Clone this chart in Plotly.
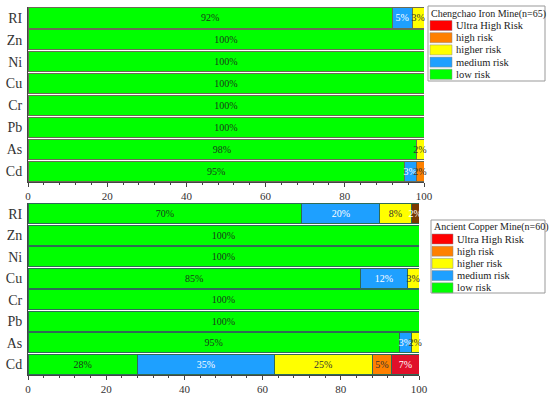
import plotly.graph_objects as go

elements = ["Cd", "As", "Pb", "Cr", "Cu", "Ni", "Zn", "RI"]
levels = ["low risk", "medium risk", "higher risk", "high risk", "Ultra High Risk"]
colors = ["#00FF00", "#1EA0FF", "#FFFF00", "#FF8000", "#FF0000"]
text_colors = ["#1a3a1a", "white", "#333333", "#333333", "white"]

# Chengchao Iron Mine (n=65), percentages per element (Cd..RI)
iron_low = [95, 98, 100, 100, 100, 100, 100, 92]
iron_medium = [3, 0, 0, 0, 0, 0, 0, 5]
iron_higher = [0, 2, 0, 0, 0, 0, 0, 3]
iron_high = [2, 0, 0, 0, 0, 0, 0, 0]
iron_ultra = [0, 0, 0, 0, 0, 0, 0, 0]

# Ancient Copper Mine (n=60)
copper_low = [28, 95, 100, 100, 85, 100, 100, 70]
copper_medium = [35, 3, 0, 0, 12, 0, 0, 20]
copper_higher = [25, 2, 0, 0, 3, 0, 0, 8]
copper_high = [5, 0, 0, 0, 0, 0, 0, 0]
copper_ultra = [7, 0, 0, 0, 0, 0, 0, 2]

iron = [iron_low, iron_medium, iron_higher, iron_high, iron_ultra]
copper = [copper_low, copper_medium, copper_higher, copper_high, copper_ultra]

iron_title = "Chengchao Iron Mine(n=65)"
copper_title = "Ancient Copper Mine(n=60)"

x_ticks = [0, 20, 40, 60, 80, 100]

W, H = 550, 395
fig = go.Figure()
serif = "Liberation Serif"

def add_group(data, xa, ya, line_color, ultra_colors=None):
    for i, (lvl, vals) in enumerate(zip(levels, data)):
        c = colors[i]
        if i == 4 and ultra_colors is not None:
            c = ultra_colors
        fig.add_trace(go.Bar(
            y=elements, x=vals, orientation="h", name=lvl,
            marker=dict(color=c, line=dict(color=line_color, width=1)),
            text=[f"{v}%" if v > 0 else "" for v in vals],
            textposition="inside", insidetextanchor="middle", textangle=0,
            textfont=dict(family=serif, size=10, color=text_colors[i]),
            constraintext="none", cliponaxis=False, showlegend=False,
            xaxis=xa, yaxis=ya,
        ))

add_group(iron, "x", "y", "#6b6b55")
ultra_cu = ["#E0102A", "#7A3A00", "#E0102A", "#E0102A", "#E0102A", "#E0102A", "#E0102A", "#7A3A00"]
add_group(copper, "x2", "y2", "#2f6b55", ultra_colors=ultra_cu)

# custom legends (pixel layout converted to paper coords)
def px(x):
    return x / W

def py(y):
    return 1 - y / H

shapes, annots = [], []

def add_legend(x0, x1, y0, y1, title, title_y, first_y, step, sw_x0, sw_x1, txt_x):
    shapes.append(dict(type="rect", xref="paper", yref="paper",
                       x0=px(x0), x1=px(x1), y0=py(y1), y1=py(y0),
                       line=dict(color="#999", width=1), fillcolor="white", layer="above"))
    annots.append(dict(xref="paper", yref="paper", x=px(x0 + 1), y=py(title_y),
                       xanchor="left", yanchor="middle", text=title, showarrow=False,
                       font=dict(family=serif, size=10, color="#222")))
    for k, i in enumerate(reversed(range(len(levels)))):
        cy = first_y + k * step
        shapes.append(dict(type="rect", xref="paper", yref="paper",
                           x0=px(sw_x0), x1=px(sw_x1), y0=py(cy + 5), y1=py(cy - 5),
                           line=dict(color="#888", width=0.5), fillcolor=colors[i], layer="above"))
        annots.append(dict(xref="paper", yref="paper", x=px(txt_x), y=py(cy),
                           xanchor="left", yanchor="middle", text=levels[i], showarrow=False,
                           font=dict(family=serif, size=10.5, color="#222")))

add_legend(428, 545, 6, 81, iron_title, 14, 25.5, 12.2, 430, 452, 454)
add_legend(431, 545, 220, 293, copper_title, 227.5, 239, 12.2, 432, 453, 455)

axis_x = dict(range=[0, 100], tickvals=x_ticks, ticks="outside", ticklen=4,
              tickcolor="#444", showline=True, linecolor="#444", linewidth=1,
              showgrid=False, zeroline=False, automargin=False,
              tickfont=dict(family=serif, size=11, color="#333"),
              minor=dict(dtick=4, ticks="outside", ticklen=2, tickcolor="#444"))
axis_y = dict(showline=True, linecolor="#444", linewidth=1, showgrid=False,
              ticks="", automargin=False, ticklabelstandoff=2,
              tickfont=dict(family=serif, size=14, color="#333"),
              categoryorder="array", categoryarray=elements)

fig.update_layout(
    width=W, height=H, margin=dict(l=0, r=0, t=0, b=0),
    paper_bgcolor="white", plot_bgcolor="white",
    font=dict(family=serif),
    barmode="stack", bargap=0.08, showlegend=False,
    uniformtext=dict(minsize=10, mode="show"),
    xaxis=dict(domain=[px(28), px(424)], anchor="y", **axis_x),
    yaxis=dict(domain=[py(182), py(7)], anchor="x", **axis_y),
    xaxis2=dict(domain=[px(28), px(419)], anchor="y2", **axis_x),
    yaxis2=dict(domain=[py(375), py(203)], anchor="x2", **axis_y),
    shapes=shapes, annotations=annots,
)

fig.write_html("out.html", config={"displayModeBar": False},
               post_script="document.body.style.margin='0';")
